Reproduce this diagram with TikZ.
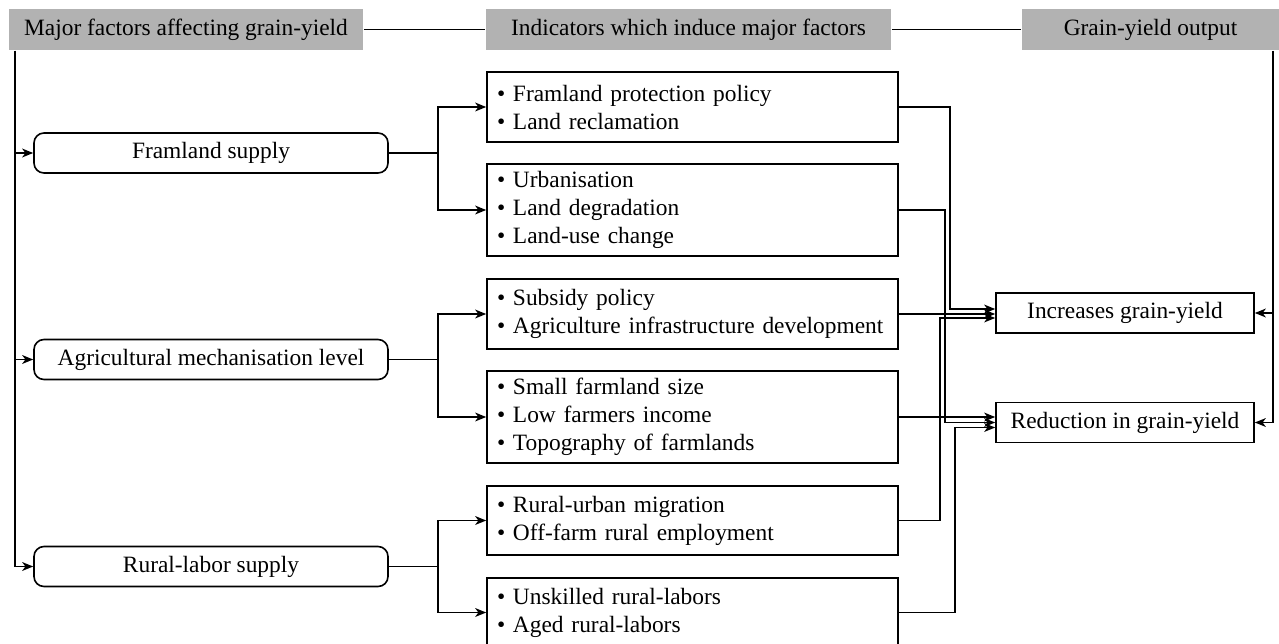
\documentclass[tikz,border=0pt]{standalone}
\usepackage{fontspec}
\setmainfont{Liberation Serif}
\usetikzlibrary{arrows.meta}

\tikzset{
  hdr/.style={fill=black!30, inner sep=0, minimum height=20.5pt},
  factor/.style={draw, rounded corners=5pt, inner sep=0,
                 minimum width=177pt, minimum height=20pt},
  ind/.style={draw, align=left, text width=195.5pt,
              inner xsep=5pt, inner ysep=0pt},
  outbox/.style={draw, inner sep=0, minimum width=129pt, minimum height=20pt},
  arr/.style={-{Stealth[length=5.5pt, width=4.4pt, inset=1.6pt]}},
}

\begin{document}
\begin{tikzpicture}[x=0.5pt, y=-0.5pt, line width=0.8pt,
                    font=\fontsize{11.7}{14}\selectfont]
    \useasboundingbox (0,0) rectangle (1279,643);
    \clip (0,0) rectangle (1279,643);

    % --- column headers, joined by plain rules ---
    \node[hdr, minimum width=177pt] (hfac) at (186,29.5)
      {Major factors affecting grain-yield};
    \node[hdr, minimum width=202.5pt] (hind) at (688.5,29.5)
      {Indicators which induce major factors};
    \node[hdr, minimum width=128.5pt] (hout) at (1150.5,29.5)
      {Grain-yield output};
    \draw (hfac) -- (hind);
    \draw (hind) -- (hout);

    % --- major factors (rounded) ---
    \node[factor] (fland)  at (211,153)   {Framland supply};
    \node[factor] (fmech)  at (211,359.5) {Agricultural mechanisation level};
    \node[factor] (flabor) at (211,566.5) {Rural-labor supply};

    % --- indicators, two per factor ---
    \node[ind, minimum height=35pt] (iprot) at (692.5,107)
      {\textbullet{} Framland protection policy\\\textbullet{} Land reclamation};
    \node[ind, minimum height=46pt] (iurb) at (692.5,210)
      {\textbullet{} Urbanisation\\\textbullet{} Land degradation\\\textbullet{} Land-use change};
    \node[ind, minimum height=35pt] (isub) at (692.5,314)
      {\textbullet{} Subsidy policy\\\textbullet{} Agriculture infrastructure development};
    \node[ind, minimum height=46pt] (ismall) at (692.5,417)
      {\textbullet{} Small farmland size\\\textbullet{} Low farmers income\\\textbullet{} Topography of farmlands};
    \node[ind, minimum height=34.5pt] (imig) at (692.5,520.5)
      {\textbullet{} Rural-urban migration\\\textbullet{} Off-farm rural employment};
    \node[ind, minimum height=34.5pt] (iskill) at (692.5,612.5)
      {\textbullet{} Unskilled rural-labors\\\textbullet{} Aged rural-labors};

    % --- outputs ---
    \node[outbox] (oinc) at (1125,313)   {Increases grain-yield};
    \node[outbox] (ored) at (1125,422.5) {Reduction in grain-yield};

    % left trunk into the factors
    \coordinate (ltrunk) at ([xshift=3.5pt]hfac.south west);
    \foreach \n in {fland,fmech,flabor}
      \draw[arr] (ltrunk) |- (\n.west);

    % factor -> its two indicators
    \foreach \f/\a/\b in {fland/iprot/iurb, fmech/isub/ismall, flabor/imig/iskill} {
      \draw[arr] (\f.east) -- ++(49,0) |- (\a.west);
      \draw[arr] (\f.east) -- ++(49,0) |- (\b.west);
    }

    % indicators -> outputs
    \draw[arr] (iprot.east) -- ++(51,0) |- ([yshift=2pt]oinc.west);
    \draw[arr] (isub.east) -- (isub.east -| oinc.west);
    \draw[arr] (imig.east) -- ++(41,0) |- ([yshift=-2.5pt]oinc.west);
    \draw[arr] (iurb.east) -- ++(46,0) |- (ored.west);
    \draw[arr] (ismall.east) -- (ismall.east -| ored.west);
    \draw[arr] (iskill.east) -- ++(56,0) |- ([yshift=-2.5pt]ored.west);

    % right trunk from the output header
    \coordinate (rtrunk) at ([xshift=-3.5pt]hout.south east);
    \draw[arr] (rtrunk) |- (oinc.east);
    \draw[arr] (rtrunk) |- (ored.east);
\end{tikzpicture}
\end{document}
